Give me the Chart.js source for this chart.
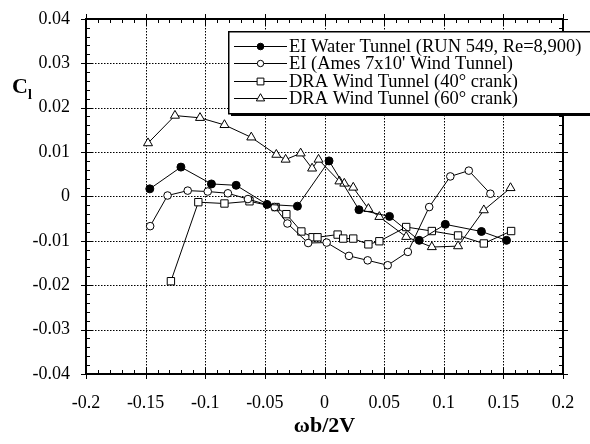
<!DOCTYPE html>
<html><head><meta charset="utf-8">
<script src="https://cdn.jsdelivr.net/npm/chart.js@4/dist/chart.umd.min.js"></script>
<style>
html,body{margin:0;padding:0;background:#fff;}
#wrap{position:relative;width:590px;height:444px;overflow:hidden;}
#c{position:absolute;left:0;top:0;}
</style></head>
<body><div id="wrap"><canvas id="c" width="590" height="444"></canvas></div>
<script>
// ---- data ----
const seriesNames = ["EI Water Tunnel (RUN 549, Re=8,900)","EI (Ames 7x10' Wind Tunnel)","DRA Wind Tunnel (40\u00b0 crank)","DRA Wind Tunnel (60\u00b0 crank)"];
const waterX = [-0.1465,-0.1204,-0.0948,-0.0741,-0.0482,-0.0227,0.0038,0.0289,0.0545,0.0794,0.1013,0.1316,0.1526];
const waterY = [0.0017,0.0066,0.0028,0.0025,-0.0018,-0.0022,0.0080,-0.0030,-0.0045,-0.0099,-0.0063,-0.0079,-0.0099];
const amesX = [-0.1462,-0.1316,-0.1147,-0.0979,-0.0810,-0.0642,-0.0418,-0.0311,-0.0137,0.0018,0.0205,0.0362,0.0530,0.0699,0.0878,0.1055,0.1210,0.1391];
const amesY = [-0.0067,0.0002,0.0013,0.0011,0.0007,-0.0006,-0.0024,-0.0061,-0.0105,-0.0104,-0.0134,-0.0144,-0.0155,-0.0125,-0.0024,0.0045,0.0058,0.0006];
const c40X = [-0.1288,-0.1058,-0.0839,-0.0629,-0.0410,-0.0320,-0.0194,-0.0100,-0.0059,0.0110,0.0157,0.0241,0.0368,0.0460,0.0685,0.0900,0.1120,0.1336,0.1565];
const c40Y = [-0.0191,-0.0013,-0.0016,-0.0011,-0.0024,-0.0040,-0.0079,-0.0092,-0.0092,-0.0086,-0.0095,-0.0095,-0.0108,-0.0101,-0.0069,-0.0078,-0.0088,-0.0106,-0.0078];
const c60X = [-0.1480,-0.1254,-0.1044,-0.0839,-0.0614,-0.0404,-0.0326,-0.0200,-0.0104,-0.0050,0.0125,0.0166,0.0241,0.0368,0.0460,0.0685,0.0900,0.1120,0.1336,0.1560];
const c60Y = [0.0120,0.0182,0.0177,0.0161,0.0133,0.0094,0.0083,0.0097,0.0063,0.0083,0.0034,0.0029,0.0020,-0.0028,-0.0046,-0.0091,-0.0114,-0.0112,-0.0031,0.0019];
const xTickLabels = ["-0.2","-0.15","-0.1","-0.05","0","0.05","0.1","0.15","0.2"];
const yTickLabels = ["-0.04","-0.03","-0.02","-0.01","0","0.01","0.02","0.03","0.04"];
const xMin=-0.2, xMax=0.2, xStep=0.05, yMin=-0.04, yMax=0.04, yStep=0.01;

const pts = (xs,ys)=>xs.map((x,i)=>({x:x,y:ys[i]}));
const pStyle = ['circle','circle','rect','triangle'];
const pRadius = [4,3.8,5.2,5.2];
const pFill = ['#000','#fff','#fff','#fff'];
const rawData = [[waterX,waterY],[amesX,amesY],[c40X,c40Y],[c60X,c60Y]];
const datasets = rawData.map((d,i)=>({
  label: seriesNames[i], data: pts(d[0],d[1]), showLine:true, fill:false,
  borderColor:'#000', borderWidth:1,
  pointStyle:pStyle[i], pointRadius:pRadius[i], pointHoverRadius:pRadius[i],
  pointBorderColor:'#000', pointBorderWidth:1, pointBackgroundColor:pFill[i]
}));

const FONT = "'Liberation Serif', serif";
function px(chart, v){
  const s = chart.scales.x, a = chart.chartArea;
  let p = s.getPixelForValue(v);
  if(!isFinite(p)) p = a.left + (v - xMin)/(xMax - xMin)*(a.right - a.left);
  return p;
}
function py(chart, v){
  const s = chart.scales.y, a = chart.chartArea;
  let p = s.getPixelForValue(v);
  if(!isFinite(p)) p = a.bottom - (v - yMin)/(yMax - yMin)*(a.bottom - a.top);
  return p;
}
function marker(ctx, style, x, y, r, fill){
  ctx.beginPath();
  if(style==='circle'){ ctx.arc(x,y,r,0,Math.PI*2); }
  else if(style==='rect'){ const s=r*Math.SQRT1_2; ctx.rect(x-s,y-s,2*s,2*s); }
  else { ctx.moveTo(x, y-r); ctx.lineTo(x+r*0.866, y+r*0.5); ctx.lineTo(x-r*0.866, y+r*0.5); ctx.closePath(); }
  ctx.fillStyle=fill; ctx.fill(); ctx.lineWidth=1; ctx.strokeStyle='#000'; ctx.stroke();
}
const axesPlugin = {
  id:'axesdeco',
  beforeDatasetsDraw(chart){
    const ctx = chart.ctx, a = chart.chartArea;
    ctx.save();
    ctx.fillStyle='#000';
    // dotted grid drawn as dots
    for(let i=0;i<xTickLabels.length;i++){
      const X = Math.round(px(chart, xMin+i*xStep));
      for(let yy=Math.ceil(a.top); yy<a.bottom; yy+=3) ctx.fillRect(X, yy, 1, 1.5);
    }
    for(let i=0;i<yTickLabels.length;i++){
      const Y = Math.round(py(chart, yMin+i*yStep));
      for(let xx=Math.ceil(a.left); xx<a.right; xx+=3) ctx.fillRect(xx, Y, 1.5, 1);
    }
    ctx.restore();
  },
  afterDraw(chart){
    const ctx = chart.ctx, a = chart.chartArea;
    ctx.save();
    ctx.setLineDash([]);
    ctx.fillStyle='#000';
    // frame
    const L=Math.round(a.left), R=Math.round(a.right), T=Math.round(a.top), B=Math.round(a.bottom);
    ctx.fillRect(L-1, T-1, R-L+2, 2);
    ctx.fillRect(L-1, B-1, R-L+2, 2);
    ctx.fillRect(L-1, T-1, 2, B-T+2);
    ctx.fillRect(R-1, T-1, 2, B-T+2);
    // ticks
    for(let i=0;i<=40;i++){
      const X = Math.round(px(chart, xMin+i*0.01));
      const major = i%5===0;
      const inL = major?7:4, outL = major?5:0;
      ctx.fillRect(X, B-inL, 1, inL+outL);
      ctx.fillRect(X, T-outL, 1, inL+outL);
    }
    for(let i=0;i<=40;i++){
      const Y = Math.round(py(chart, yMin+i*0.002));
      const major = i%5===0;
      const inL = major?7:4, outL = major?5:0;
      ctx.fillRect(L-outL, Y, inL+outL, 1);
      ctx.fillRect(R-inL, Y, inL+outL, 1);
    }
    // y-axis label C_l
    ctx.fillStyle='#000';
    ctx.textBaseline='alphabetic'; ctx.textAlign='left';
    ctx.font = "bold 22px " + FONT;
    ctx.fillText('C', 12, 93);
    ctx.font = "bold 14px " + FONT;
    ctx.fillText('l', 28, 99);
    // legend box
    const lx=228, ly=31, lw=380, lh=82;
    ctx.fillStyle='#000';
    ctx.fillRect(lx+3, ly+3, lw, lh);
    ctx.fillStyle='#fff';
    ctx.fillRect(lx, ly, lw, lh);
    ctx.strokeStyle='#000'; ctx.lineWidth=1.5;
    ctx.strokeRect(lx+0.75, ly+0.75, lw, lh);
    ctx.font = "18.5px " + FONT;
    ctx.textBaseline='middle';
    for(let i=0;i<seriesNames.length;i++){
      const cy = 46 + i*17.4;
      ctx.fillStyle='#000';
      ctx.fillRect(234, Math.round(cy), 53, 1);
      marker(ctx, pStyle[i], 260.5, Math.round(cy)+0.5, [3.3,3.2,4.8,4.8][i], pFill[i]);
      ctx.fillStyle='#000';
      ctx.fillText(seriesNames[i], 289, cy+1);
    }
    ctx.restore();
  }
};

new Chart(document.getElementById('c'), {
  type:'scatter',
  data:{datasets:datasets},
  options:{
    responsive:false, animation:false,
    layout:{padding:{top:18,right:27}},
    plugins:{legend:{display:false}},
    scales:{
      x:{min:xMin,max:xMax,
        afterFit(s){s.height=70;},
        afterBuildTicks(s){s.ticks = xTickLabels.map((l,i)=>({value:xMin+i*xStep}));},
        ticks:{callback:(v)=>xTickLabels[Math.round((v-xMin)/xStep)],font:{family:FONT,size:18},color:'#000',padding:10,maxRotation:0,autoSkip:false},
        grid:{display:false},
        border:{display:false},
        title:{display:true,text:'\u03c9b/2V',font:{family:FONT,size:22,weight:'bold'},color:'#000',padding:{top:4}}
      },
      y:{min:yMin,max:yMax,
        afterFit(s){s.width=86;},
        ticks:{stepSize:yStep,callback:(v)=>yTickLabels[Math.round((v-yMin)/yStep)],font:{family:FONT,size:18},color:'#000',padding:8},
        grid:{display:false},
        border:{display:false}
      }
    }
  },
  plugins:[axesPlugin]
});
</script>
</body></html>
